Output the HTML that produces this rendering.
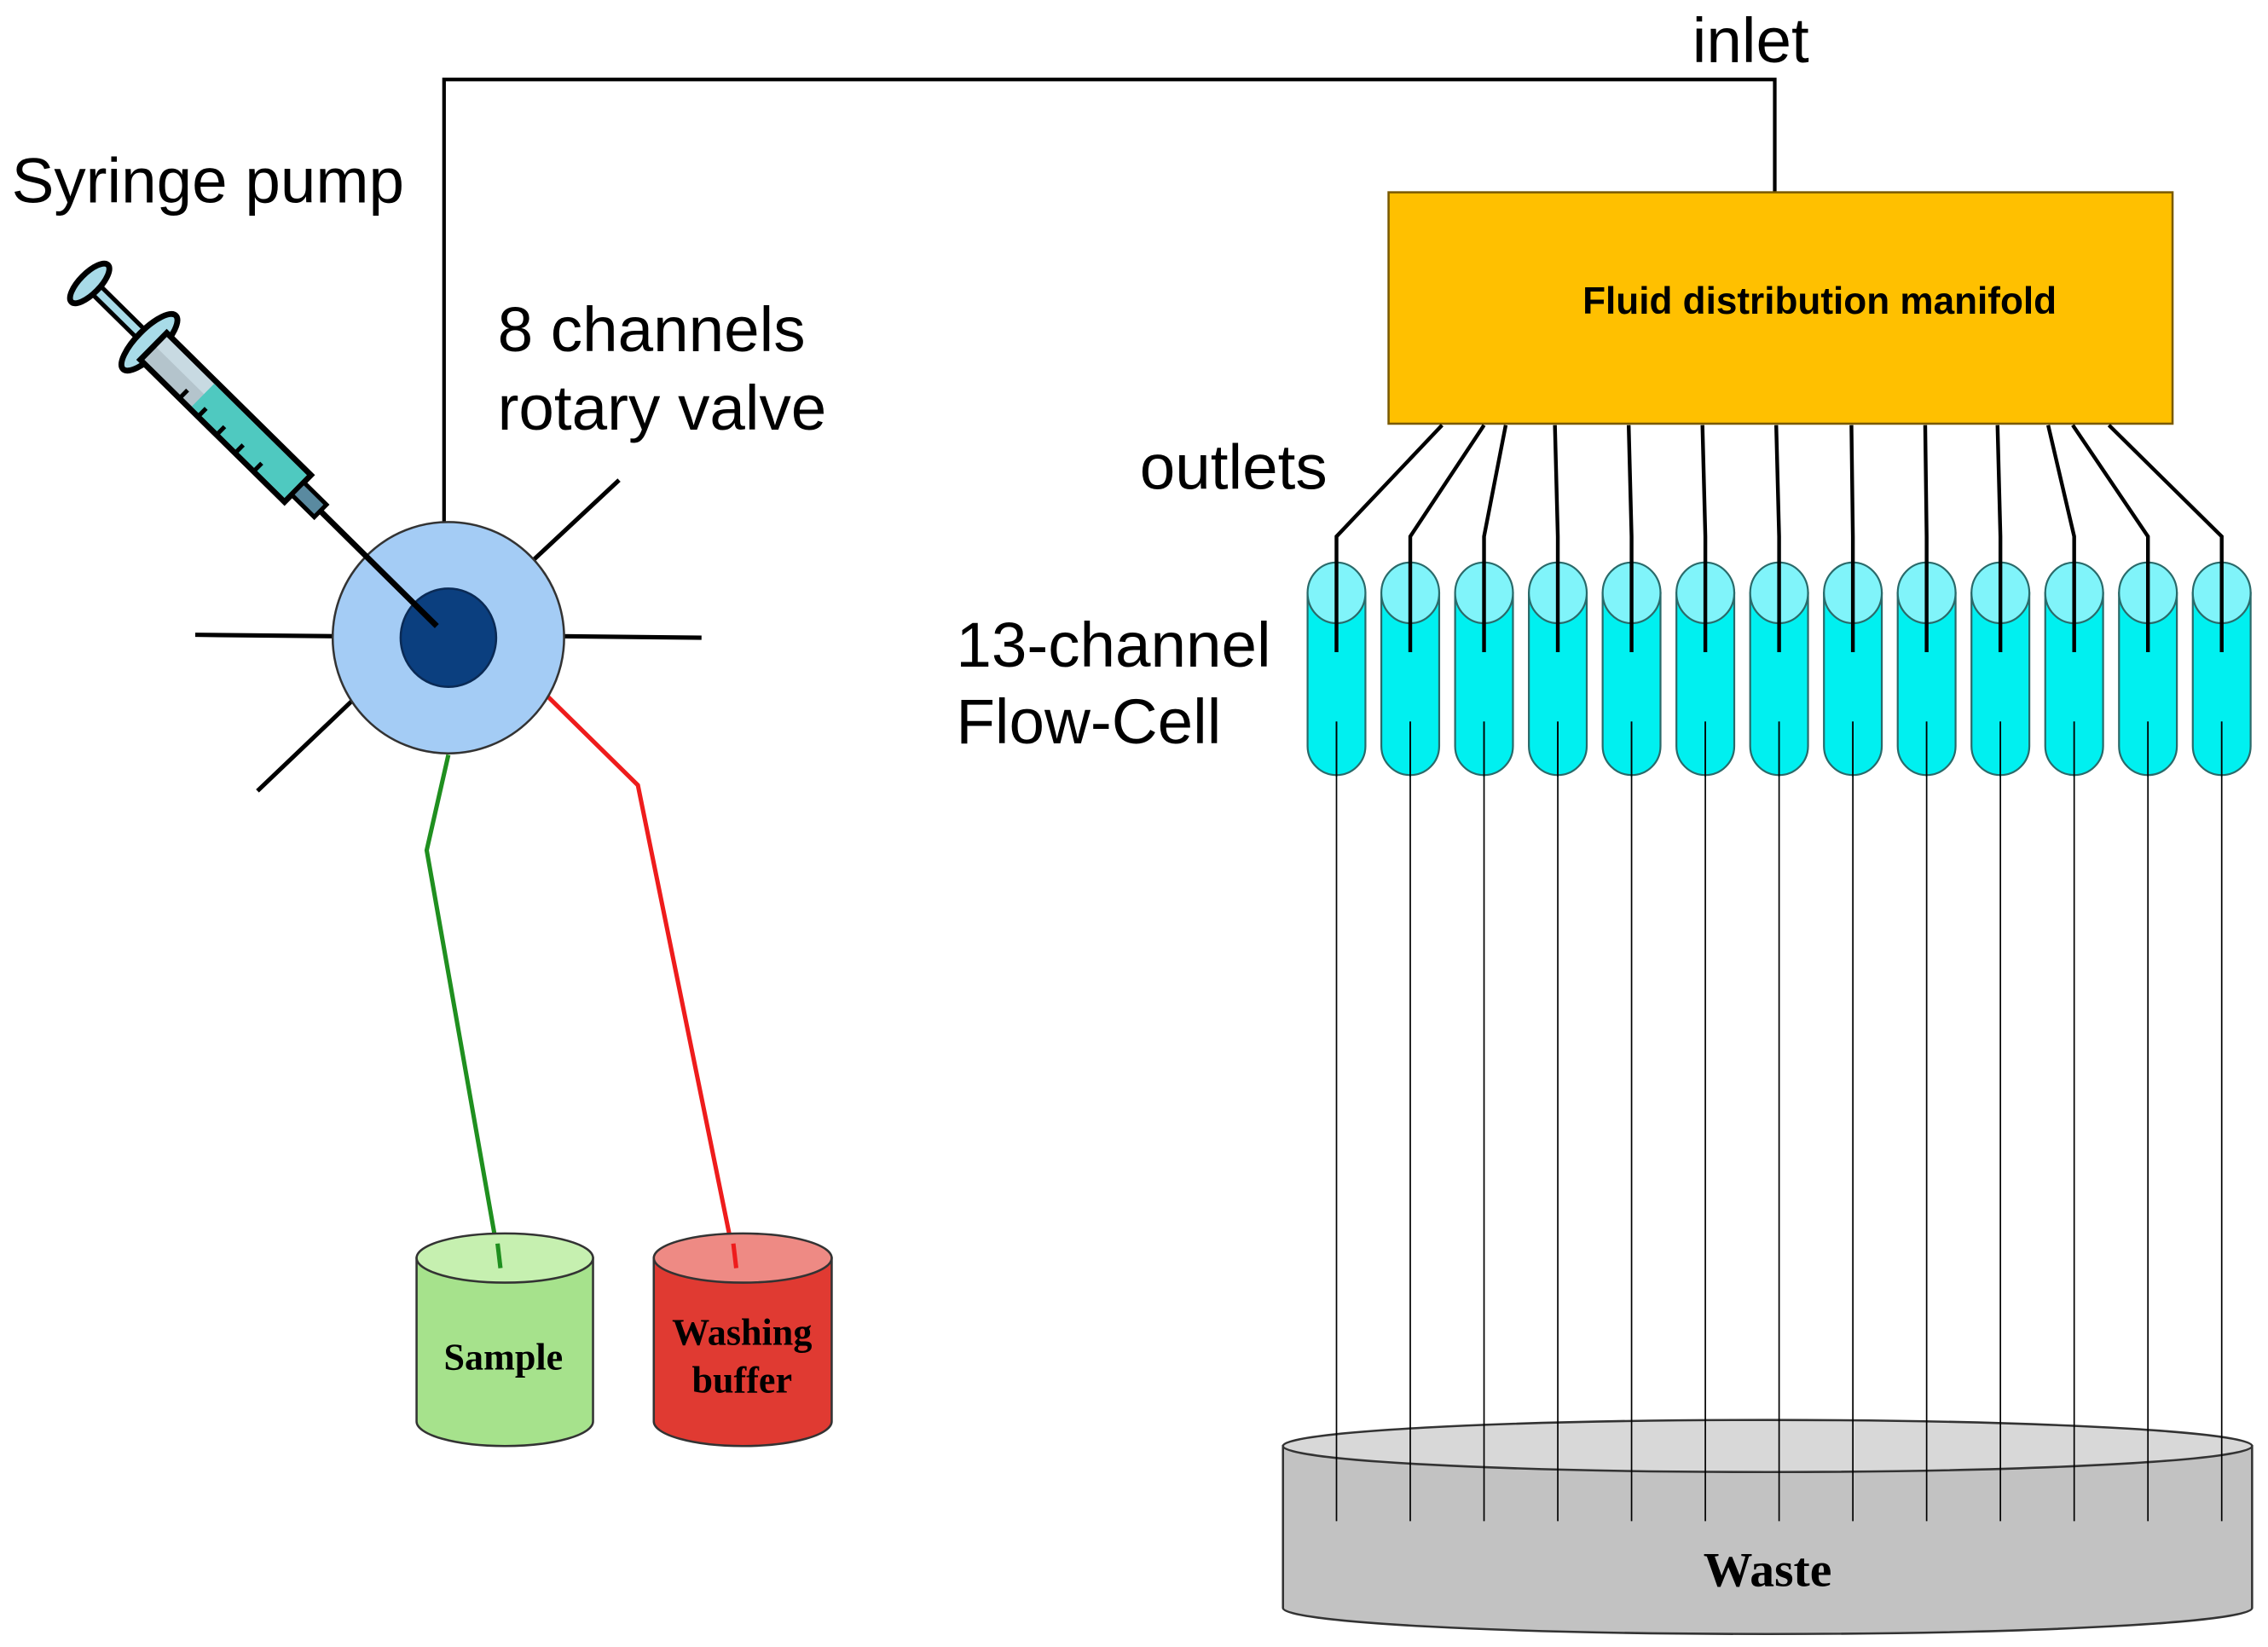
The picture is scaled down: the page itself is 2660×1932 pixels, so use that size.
<!DOCTYPE html>
<html><head><meta charset="utf-8"><style>html,body{margin:0;padding:0;background:#fff}svg{display:block}</style></head>
<body>
<svg width="2660" height="1932" viewBox="0 0 1568 1139" preserveAspectRatio="none" xmlns="http://www.w3.org/2000/svg">
<g font-family="Liberation Sans, sans-serif">
<polyline points="307,362 307,55 1227,55 1227,133" fill="none" stroke="#000" stroke-width="2.5"/>
<text x="1170" y="43" font-size="44">inlet</text>
<text x="8" y="140" font-size="44">Syringe pump</text>
<text x="344" y="243" font-size="44">8 channels</text>
<text x="344" y="297" font-size="44">rotary valve</text>
<text x="788" y="338" font-size="44">outlets</text>
<text x="661" y="461" font-size="44">13-channel</text>
<text x="661" y="514" font-size="44">Flow-Cell</text>
<g stroke="#000" stroke-width="3">
<line x1="135" y1="439" x2="232" y2="440"/>
<line x1="388" y1="440" x2="485" y2="441"/>
<line x1="368" y1="388" x2="428" y2="332"/>
<line x1="243" y1="485" x2="178" y2="547"/>
</g>
<polyline points="310,522 295,588 346,877" fill="none" stroke="#1f8f1f" stroke-width="3"/>
<polyline points="377,480 441,543 509,877" fill="none" stroke="#ee1c1c" stroke-width="3"/>
<circle cx="310" cy="441" r="80" fill="#a4ccf5" stroke="#333" stroke-width="1.5"/>
<ellipse cx="310" cy="441" rx="33" ry="34" fill="#0b3f7f" stroke="#0a2a55" stroke-width="1.5"/>
<line x1="212" y1="344" x2="302" y2="433" stroke="#000" stroke-width="4"/>
<g transform="translate(62,196) rotate(44.6)">
<rect x="0" y="-4" width="58" height="8" fill="#a8dbe8" stroke="#000" stroke-width="3"/>
<ellipse cx="0" cy="0" rx="7" ry="18" fill="#a8dbe8" stroke="#000" stroke-width="4"/>
<ellipse cx="58" cy="0" rx="9" ry="26" fill="#a8dbe8" stroke="#000" stroke-width="4"/>
<rect x="62" y="-13" width="140" height="26" fill="#b4c4cc" stroke="#000" stroke-width="4"/>
<rect x="64" y="-11" width="50" height="10" fill="#c8dae2"/>
<rect x="110" y="-11" width="90" height="22" fill="#4fc9c0"/>
<g stroke="#000" stroke-width="3">
<line x1="100" y1="13" x2="100" y2="5"/><line x1="118" y1="13" x2="118" y2="5"/>
<line x1="136" y1="13" x2="136" y2="5"/><line x1="154" y1="13" x2="154" y2="5"/>
<line x1="172" y1="13" x2="172" y2="5"/>
</g>
<rect x="202" y="-6" width="22" height="12" fill="#5a8aa0" stroke="#000" stroke-width="3"/>
</g>
<path d="M288,870 L288,983 A61,17 0 0 0 410,983 L410,870 Z" fill="#a6e28c" stroke="#333" stroke-width="1.5"/>
<ellipse cx="349" cy="870" rx="61" ry="17" fill="#c6f0b0" stroke="#333" stroke-width="1.5"/>
<line x1="344" y1="860" x2="346" y2="877" stroke="#1f8f1f" stroke-width="3"/>
<text x="348" y="947" font-family="Liberation Serif, serif" font-weight="bold" font-size="26" text-anchor="middle">Sample</text>
<path d="M452,870 L452,983 A61.5,17 0 0 0 575,983 L575,870 Z" fill="#e03a32" stroke="#333" stroke-width="1.5"/>
<ellipse cx="513.5" cy="870" rx="61.5" ry="17" fill="#ee8a84" stroke="#333" stroke-width="1.5"/>
<line x1="507" y1="860" x2="509" y2="877" stroke="#ee1c1c" stroke-width="3"/>
<text x="513" y="930" font-family="Liberation Serif, serif" font-weight="bold" font-size="26" text-anchor="middle">Washing</text>
<text x="513" y="963" font-family="Liberation Serif, serif" font-weight="bold" font-size="26" text-anchor="middle">buffer</text>
<rect x="960" y="133" width="542" height="160" fill="#ffc000" stroke="#7a5a00" stroke-width="1.5"/>
<text x="1258" y="217" font-weight="bold" font-size="26" text-anchor="middle">Fluid distribution manifold</text>
<path d="M887,1000 L887,1112 A335,18 0 0 0 1557,1112 L1557,1000 Z" fill="#c2c2c2" stroke="#333" stroke-width="1.5"/>
<ellipse cx="1222" cy="1000" rx="335" ry="18" fill="#d8d8d8" stroke="#333" stroke-width="1.5"/>
<text x="1222" y="1097" font-family="Liberation Serif, serif" font-weight="bold" font-size="34" text-anchor="middle">Waste</text>
<g id="cells" stroke="#2a6a6a" stroke-width="1.3">
</g>
</g>
<script>
(function(){
var ns="http://www.w3.org/2000/svg",g=document.getElementById('cells');
var tops=[997,1026,1041,1075,1126,1177,1228,1280,1331,1381,1416,1433,1458];
function el(n,a,p){var e=document.createElementNS(ns,n);for(var k in a)e.setAttribute(k,a[k]);(p||g).appendChild(e);return e;}
var svg=g.ownerSVGElement;
for(var i=0;i<13;i++){
 var cx=924+51*i;
 el('line',{x1:cx,y1:499,x2:cx,y2:1052,stroke:'#000','stroke-width':1},svg);
 el('path',{d:'M'+(cx-20)+',410 L'+(cx-20)+',516 A20,20 0 0 0 '+(cx+20)+',516 L'+(cx+20)+',410 Z',fill:'#00f0f0'});
 el('ellipse',{cx:cx,cy:410,rx:20,ry:21,fill:'#80f4fa'});
 el('polyline',{points:tops[i]+',294 '+cx+',371 '+cx+',451',fill:'none',stroke:'#000','stroke-width':2.6},svg);
 el('line',{x1:cx,y1:499,x2:cx,y2:537,stroke:'#000','stroke-width':1},svg);
}
})();
</script>
</svg>
</body></html>
